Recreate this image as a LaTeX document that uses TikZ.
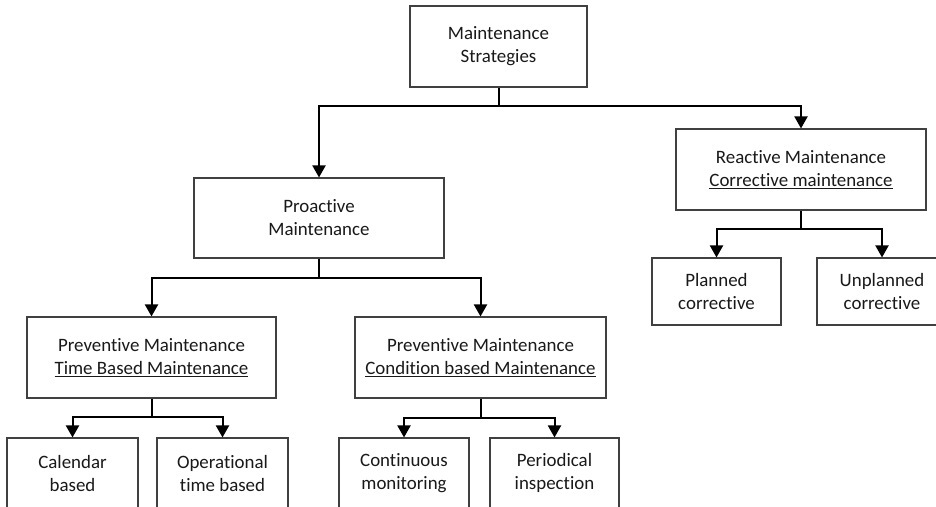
\documentclass[tikz,border=0pt]{standalone}
\usepackage{fontspec}
\setmainfont[Ligatures={NoCommon}]{Carlito}
\usetikzlibrary{arrows.meta}
\begin{document}
\begin{tikzpicture}[x=1pt,y=-1pt,
 box/.style={draw=black!75, line width=1.1pt, fill=white, align=center, inner sep=0pt,
   font=\fontsize{18.9}{23}\selectfont, text=black!90},
 conn/.style={line width=2pt, draw=black},
 arr/.style={conn,-{Triangle[width=13pt,length=12pt]}}]
\clip (0,0) rectangle (936,506);
\fill[white] (0,0) rectangle (936,506);
% nodes
\node[box, minimum width=177pt, minimum height=81pt] (ms) at (498.5,46.5) {Maintenance\\Strategies};
\node[box, minimum width=250pt, minimum height=80pt] (pro) at (319,218) {Proactive\\Maintenance};
\node[box, minimum width=250pt, minimum height=81pt] (rea) at (801,169.5) {Reactive Maintenance\\\underline{Corrective maintenance}};
\node[box, minimum width=249pt, minimum height=81pt] (tbm) at (151.5,357.5) {Preventive Maintenance\\\underline{Time Based Maintenance}};
\node[box, minimum width=251pt, minimum height=81pt] (cbm) at (480.5,357.5) {Preventive Maintenance\\\underline{Condition based Maintenance}};
\node[box, minimum width=129pt, minimum height=67pt] (pla) at (716.5,291.5) {Planned\\corrective};
\node[box, minimum width=130pt, minimum height=67pt] (unp) at (882,291.5) {Unplanned\\corrective};
\node[box, minimum width=131pt, minimum height=70pt] (cal) at (72.5,473) {Calendar\\based};
\node[box, minimum width=131pt, minimum height=70pt] (ope) at (222.5,473) {Operational\\time based};
\node[box, minimum width=130pt, minimum height=70pt] (con) at (404,473) {Continuous\\monitoring};
\node[box, minimum width=129pt, minimum height=70pt] (per) at (554.5,473) {Periodical\\inspection};
% junctions
\coordinate (j1) at (498.5,106);
\coordinate (j2) at (319,278);
\coordinate (j3) at (801,229);
\coordinate (j4) at (151.5,417);
\coordinate (j5) at (480.5,418);
% connectors
\draw[conn] (ms.south) -- (j1);
\draw[arr] (j1) -| (pro.north);
\draw[arr] (j1) -| (rea.north);
\draw[conn] (pro.south) -- (j2);
\draw[arr] (j2) -| (tbm.north);
\draw[arr] (j2) -| (cbm.north);
\draw[conn] (rea.south) -- (j3);
\draw[arr] (j3) -| (pla.north);
\draw[arr] (j3) -| (unp.north);
\draw[conn] (tbm.south) -- (j4);
\draw[arr] (j4) -| (cal.north);
\draw[arr] (j4) -| (ope.north);
\draw[conn] (cbm.south) -- (j5);
\draw[arr] (j5) -| (con.north);
\draw[arr] (j5) -| (per.north);
\end{tikzpicture}
\end{document}
